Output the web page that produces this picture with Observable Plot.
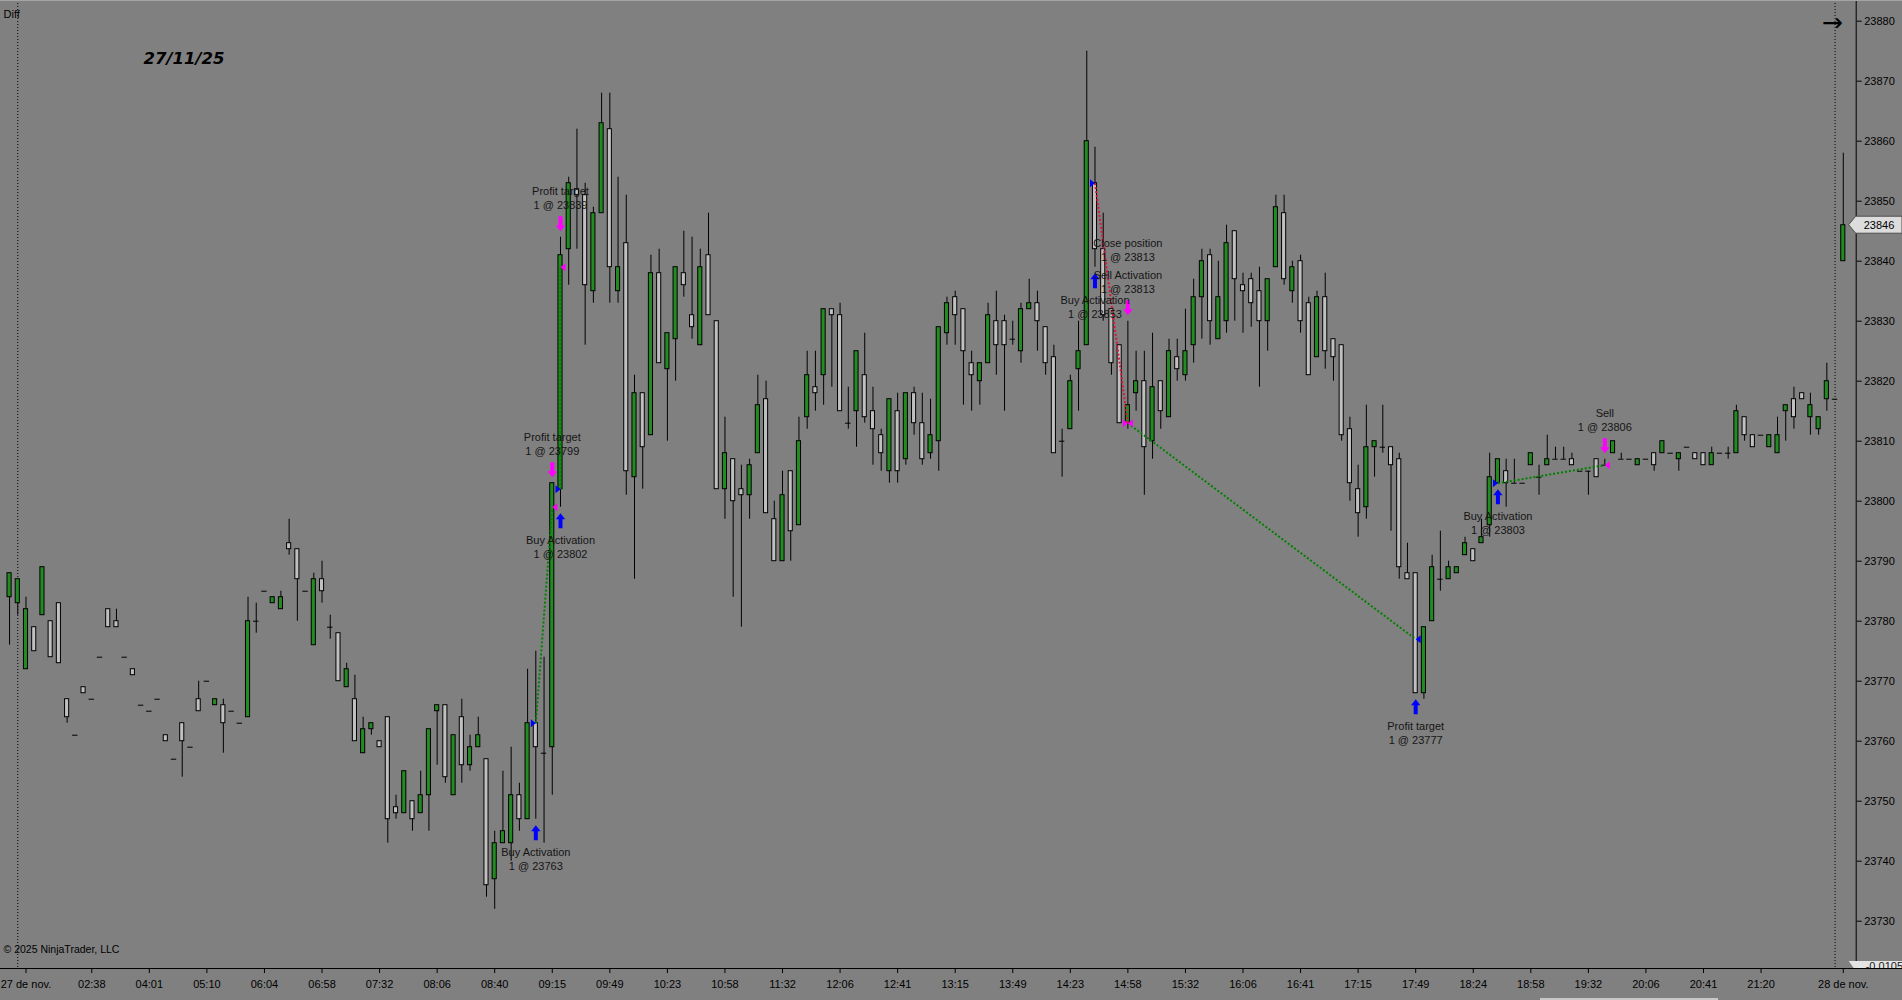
<!DOCTYPE html>
<html><head><meta charset="utf-8">
<script src="https://cdn.jsdelivr.net/npm/d3@7"></script>
<script src="https://cdn.jsdelivr.net/npm/@observablehq/plot@0.6"></script>
<style>
html,body{margin:0;padding:0;background:#808080;overflow:hidden;}
#wrap{position:relative;width:1902px;height:1000px;}
#wrap svg{display:block;}
#topline{position:absolute;left:0;top:0;width:1902px;height:1px;background:#a4a4a4;}
#scroll{position:absolute;left:1540px;top:998px;width:178px;height:2px;background:#c8c8c8;}
</style></head>
<body><div id="wrap"><div id="topline"></div><div id="scroll"></div></div>
<script>
// ---- candle data (27/11/25, one bar per index) ----
const open = [23784,23783,23772,23779,23781,23780,23783,23767,23761,23769,
23767,23774,23782,23780,23774,23772,23766,23765,23767,23761,
23757,23763,23759,23767,23770,23766,23766,23765,23763,23764,
23780,23785,23783,23782,23793,23792,23785,23776,23787,23779,
23778,23769,23767,23758,23762,23760,23764,23749,23748,23750,
23748,23751,23765,23766,23751,23764,23756,23759,23757,23737,
23743,23743,23751,23747,23763,23758,23759,23802,23842,23852,
23851,23835,23848,23862,23835,23843,23804,23818,23811,23838,
23822,23827,23838,23831,23826,23841,23830,23802,23807,23802,
23801,23808,23817,23797,23790,23805,23796,23814,23819,23821,
23832,23831,23813,23815,23821,23815,23811,23805,23815,23807,
23818,23813,23808,23810,23828,23834,23832,23823,23820,23823,
23830,23830,23827,23825,23832,23833,23829,23824,23810,23812,
23822,23826,23853,23842,23832,23826,23813,23818,23820,23810,
23820,23814,23824,23821,23826,23834,23841,23827,23830,23845,
23836,23837,23835,23830,23839,23848,23835,23840,23833,23824,
23834,23827,23826,23812,23802,23799,23809,23809,23809,23807,
23788,23788,23768,23780,23787,23787,23788,23791,23792,23793,
23796,23803,23805,23803,23803,23806,23804,23806,23807,23807,
23807,23805,23805,23807,23806,23808,23807,23807,23806,23807,
23808,23808,23808,23807,23809,23808,23808,23806,23808,23808,
23808,23814,23811,23811,23809,23808,23815,23817,23818,23814,
23812,23817,23817,23840];
const high = [23788,23787,23784,23779,23789,23780,23783,23767,23761,23769,
23767,23774,23782,23782,23774,23772,23766,23765,23767,23761,
23757,23763,23759,23770,23770,23767,23767,23765,23763,23784,
23783,23785,23784,23785,23797,23792,23785,23788,23790,23781,
23778,23773,23771,23764,23763,23760,23764,23751,23755,23750,
23755,23762,23766,23766,23761,23767,23761,23764,23757,23745,
23755,23759,23753,23772,23775,23774,23803,23844,23854,23862,
23853,23849,23868,23868,23854,23851,23821,23818,23841,23842,
23828,23839,23845,23844,23842,23848,23830,23814,23807,23806,
23807,23821,23820,23800,23805,23805,23814,23825,23825,23832,
23832,23833,23819,23825,23828,23819,23812,23817,23818,23818,
23819,23818,23817,23829,23834,23835,23832,23825,23823,23833,
23835,23831,23830,23833,23837,23835,23829,23826,23812,23821,
23830,23875,23859,23848,23832,23826,23830,23825,23825,23828,
23820,23827,23827,23832,23837,23842,23842,23840,23846,23845,
23838,23838,23839,23837,23851,23851,23840,23841,23834,23835,
23838,23827,23826,23814,23806,23816,23810,23816,23809,23808,
23793,23788,23779,23791,23795,23790,23789,23794,23792,23797,
23808,23807,23807,23807,23803,23808,23806,23811,23809,23809,
23808,23805,23805,23807,23807,23810,23808,23807,23807,23807,
23808,23810,23808,23808,23809,23808,23808,23809,23808,23809,
23816,23814,23811,23811,23811,23814,23816,23819,23818,23818,
23814,23823,23817,23858];
const low = [23776,23781,23772,23775,23781,23774,23773,23763,23761,23768,
23767,23774,23779,23779,23774,23771,23766,23765,23767,23760,
23757,23754,23759,23765,23770,23766,23758,23765,23763,23764,
23778,23785,23783,23782,23791,23780,23785,23776,23783,23777,
23770,23769,23760,23758,23761,23759,23743,23747,23748,23745,
23748,23745,23756,23753,23751,23753,23755,23759,23734,23732,
23743,23740,23745,23747,23747,23743,23751,23799,23836,23842,
23826,23833,23848,23833,23833,23801,23787,23802,23811,23823,
23810,23820,23834,23827,23826,23831,23802,23797,23784,23779,
23797,23808,23798,23790,23790,23790,23796,23812,23815,23816,
23819,23815,23812,23809,23813,23806,23805,23803,23803,23806,
23811,23806,23807,23805,23826,23826,23816,23815,23816,23823,
23821,23815,23826,23823,23832,23825,23821,23808,23804,23812,
23815,23826,23839,23830,23821,23813,23812,23815,23801,23807,
23812,23814,23820,23820,23823,23827,23826,23827,23828,23830,
23828,23829,23819,23825,23839,23836,23833,23828,23821,23824,
23822,23820,23810,23800,23794,23797,23804,23808,23795,23787,
23787,23768,23767,23780,23785,23787,23788,23791,23790,23793,
23794,23803,23799,23803,23803,23806,23801,23806,23807,23807,
23806,23805,23801,23804,23806,23808,23807,23807,23806,23807,
23805,23808,23808,23805,23809,23807,23806,23806,23808,23807,
23808,23810,23809,23811,23809,23808,23810,23812,23817,23811,
23811,23815,23817,23840];
const close = [23788,23787,23782,23775,23789,23774,23773,23764,23761,23768,
23767,23774,23779,23779,23774,23771,23766,23765,23767,23760,
23757,23760,23759,23765,23770,23767,23763,23765,23763,23780,
23780,23785,23784,23784,23792,23787,23785,23787,23785,23779,
23770,23772,23760,23762,23763,23759,23747,23748,23755,23747,
23751,23762,23766,23754,23761,23756,23759,23761,23736,23743,
23745,23751,23747,23763,23759,23758,23803,23841,23853,23851,
23836,23848,23863,23839,23839,23805,23818,23809,23838,23823,
23828,23839,23836,23829,23839,23831,23802,23808,23800,23801,
23806,23816,23798,23790,23801,23795,23810,23821,23818,23832,
23831,23815,23813,23825,23814,23812,23808,23817,23805,23818,
23813,23807,23811,23829,23833,23831,23825,23821,23823,23831,
23826,23826,23827,23832,23833,23830,23823,23808,23810,23820,
23825,23860,23842,23831,23823,23813,23816,23820,23809,23819,
23815,23825,23822,23825,23834,23840,23830,23834,23843,23837,
23835,23833,23830,23837,23849,23837,23839,23830,23821,23834,
23825,23824,23811,23803,23798,23809,23810,23809,23806,23789,
23787,23768,23779,23789,23787,23789,23789,23793,23790,23794,
23804,23807,23803,23803,23803,23808,23804,23807,23807,23807,
23806,23805,23805,23804,23806,23810,23807,23807,23807,23807,
23806,23810,23808,23808,23809,23807,23806,23808,23808,23808,
23815,23811,23809,23811,23811,23811,23816,23814,23817,23816,
23814,23820,23817,23846];

// ---- axes ----
const yTicks = [23730,23740,23750,23760,23770,23780,23790,23800,23810,23820,23830,23840,23850,23860,23870,23880];
const xTickIdx = [2,10,17,24,31,38,45,52,59,66,73,80,87,94,101,108,115,122,129,136,143,150,157,164,171,178,185,192,199,206,213,223];
const xTickLabels = ["27 de nov.","02:38","04:01","05:10","06:04","06:58","07:32","08:06","08:40","09:15","09:49","10:23","10:58","11:32","12:06","12:41","13:15","13:49","14:23","14:58","15:32","16:06","16:41","17:15","17:49","18:24","18:58","19:32","20:06","20:41","21:20","28 de nov."];
const sessionBreaks = [1, 222];
const indicatorValue = "-0,0105";

// ---- trades ----
const entryIdx   = [64, 67, 132, 136, 181];
const entryPrice = [23763, 23802, 23853, 23813, 23803];
const entrySide  = ["buy","buy","buy","sell","buy"];
const exitIdx    = [66, 67, 136, 171, 194];
const exitPrice  = [23799, 23839, 23813, 23777, 23806];
const exitSide   = ["sell","sell","sell","buy","sell"];
const tradeWin   = [true, true, false, true, true];

// ---- execution markers (arrow + two-line label) ----
const markerIdx   = [64, 66, 67, 67, 132, 136, 136, 171, 181, 194];
const markerSide  = ["buy","sell","buy","sell","buy","sell","sell","buy","buy","sell"];
const markerStack = [0,0,0,0,0,0,1,0,0,0];
const markerName  = ["Buy Activation","Profit target","Buy Activation","Profit target","Buy Activation","Sell Activation","Close position","Profit target","Buy Activation","Sell"];
const markerQty   = ["1 @ 23763","1 @ 23799","1 @ 23802","1 @ 23839","1 @ 23853","1 @ 23813","1 @ 23813","1 @ 23777","1 @ 23803","1 @ 23806"];

// ---- build tables ----
const candles = open.map((o, i) => ({i, o, h: high[i], l: low[i], c: close[i]}));
const upBodies = candles.filter(d => d.c > d.o);
const dnBodies = candles.filter(d => d.c < d.o);
const dojis = candles.filter(d => d.c === d.o);
const trades = entryIdx.map((e, k) => ({ei: e, ep: entryPrice[k], xi: exitIdx[k], xp: exitPrice[k], win: tradeWin[k]}));
const entries = entryIdx.map((e, k) => ({i: e, p: entryPrice[k], side: entrySide[k]}));
const exits = exitIdx.map((e, k) => ({i: e, p: exitPrice[k], side: exitSide[k]}));
const markers = markerIdx.map((m, k) => ({i: m, side: markerSide[k], stack: markerStack[k], name: markerName[k], qty: markerQty[k]}));
const arrows = markers.filter(m => m.stack === 0);
const labelRows = markers.flatMap(m => [
  {i: m.i, side: m.side, stack: m.stack, line: 0, text: m.name},
  {i: m.i, side: m.side, stack: m.stack, line: 1, text: m.qty}
]);

const GREEN = "#228b22", GRAY = "#c0c0c0", BLUE = "#0000ff", MAGENTA = "#ff00ff";
const FONT = "'Liberation Sans', Arial, sans-serif";

const upArrow = {draw(c){c.moveTo(0,0);c.lineTo(4.7,6);c.lineTo(2,6);c.lineTo(2,15);c.lineTo(-2,15);c.lineTo(-2,6);c.lineTo(-4.7,6);c.closePath();}};
const downArrow = {draw(c){c.moveTo(0,0);c.lineTo(4.7,-6);c.lineTo(2,-6);c.lineTo(2,-15);c.lineTo(-2,-15);c.lineTo(-2,-6);c.lineTo(-4.7,-6);c.closePath();}};
const triRight = {draw(c){c.moveTo(0,0);c.lineTo(-5,-4);c.lineTo(-5,4);c.closePath();}};
const triLeft = {draw(c){c.moveTo(0,0);c.lineTo(5,-4);c.lineTo(5,4);c.closePath();}};

const xDomain = [-1.1006, 224.57];
const yDomain = [23722.12, 23883.45];

const chart = Plot.plot({
  width: 1902, height: 1000,
  marginLeft: 0, marginRight: 46.3, marginTop: 0, marginBottom: 32,
  x: {type: "linear", domain: xDomain, axis: null},
  y: {type: "linear", domain: yDomain, axis: null},
  style: {background: "transparent", fontFamily: FONT, fontSize: "11px", color: "black", overflow: "visible"},
  marks: [
    Plot.ruleX(sessionBreaks, {x: d => d, stroke: "black", strokeWidth: 1, strokeDasharray: "1,2"}),
    Plot.ruleY([yDomain[0]], {stroke: "black", strokeWidth: 1}),
    Plot.ruleX([xDomain[1]], {stroke: "black", strokeWidth: 1}),
    Plot.axisY({anchor: "right", ticks: yTicks, tickSize: 5, tickPadding: 3, tickFormat: d => String(d), fontSize: 11, color: "black"}),
    Plot.axisX({anchor: "bottom", ticks: xTickIdx, tickSize: 5, tickPadding: 7, tickFormat: v => xTickLabels[xTickIdx.indexOf(v)], fontSize: 11, color: "black"}),
    // wicks
    Plot.ruleX(candles, {x: "i", y1: "l", y2: "h", stroke: "black", strokeWidth: 1}),
    // bodies
    Plot.rect(upBodies, {x1: d => d.i - 0.25, x2: d => d.i + 0.25, y1: "o", y2: "c", fill: GREEN, stroke: "black", strokeWidth: 1}),
    Plot.rect(dnBodies, {x1: d => d.i - 0.25, x2: d => d.i + 0.25, y1: "o", y2: "c", fill: GRAY, stroke: "black", strokeWidth: 1}),
    Plot.ruleY(dojis, {y: "o", x1: d => d.i - 0.33, x2: d => d.i + 0.33, stroke: "black", strokeWidth: 1}),
    // trade connection lines
    Plot.link(trades, {x1: "ei", y1: "ep", x2: "xi", y2: "xp", stroke: d => d.win ? "#008000" : "#dc143c", strokeWidth: 2, strokeDasharray: "2,2"}),
    // entry / exit triangles
    Plot.dot(entries.filter(d => d.side === "buy"), {x: "i", y: "p", symbol: triRight, fill: BLUE, stroke: "none"}),
    Plot.dot(entries.filter(d => d.side === "sell"), {x: "i", y: "p", symbol: triRight, fill: MAGENTA, stroke: "none"}),
    Plot.dot(exits.filter(d => d.side === "buy"), {x: "i", y: "p", symbol: triLeft, fill: BLUE, stroke: "none"}),
    Plot.dot(exits.filter(d => d.side === "sell"), {x: "i", y: "p", symbol: triLeft, fill: MAGENTA, stroke: "none"}),
    // execution arrows
    Plot.dot(arrows.filter(d => d.side === "buy"), {x: "i", y: d => low[d.i], dy: 6, symbol: upArrow, fill: BLUE, stroke: "none"}),
    Plot.dot(arrows.filter(d => d.side === "sell"), {x: "i", y: d => high[d.i], dy: -6, symbol: downArrow, fill: MAGENTA, stroke: "none"}),
    // execution labels
    Plot.text(labelRows.filter(d => d.side === "buy" && d.line === 0), {x: "i", y: d => low[d.i], text: "text", dy: 33, fill: "#151515", fontSize: 11, textAnchor: "middle"}),
    Plot.text(labelRows.filter(d => d.side === "buy" && d.line === 1), {x: "i", y: d => low[d.i], text: "text", dy: 47, fill: "#151515", fontSize: 11, textAnchor: "middle"}),
    Plot.text(labelRows.filter(d => d.side === "sell" && d.stack === 0 && d.line === 0), {x: "i", y: d => high[d.i], text: "text", dy: -46, fill: "#151515", fontSize: 11, textAnchor: "middle"}),
    Plot.text(labelRows.filter(d => d.side === "sell" && d.stack === 0 && d.line === 1), {x: "i", y: d => high[d.i], text: "text", dy: -32, fill: "#151515", fontSize: 11, textAnchor: "middle"}),
    Plot.text(labelRows.filter(d => d.side === "sell" && d.stack === 1 && d.line === 0), {x: "i", y: d => high[d.i], text: "text", dy: -78, fill: "#151515", fontSize: 11, textAnchor: "middle"}),
    Plot.text(labelRows.filter(d => d.side === "sell" && d.stack === 1 && d.line === 1), {x: "i", y: d => high[d.i], text: "text", dy: -64, fill: "#151515", fontSize: 11, textAnchor: "middle"}),
    // chart texts
    Plot.text(["Diff"], {frameAnchor: "top-left", dx: 3, dy: 10, textAnchor: "start", fontSize: 11, fill: "black"}),
    Plot.text(["27/11/25"], {frameAnchor: "top-left", dx: 143, dy: 52, textAnchor: "start", fontSize: 16.5, fontWeight: "bold", fontStyle: "italic", fontFamily: "'DejaVu Sans', sans-serif", fill: "black"}),
    Plot.text(["© 2025 NinjaTrader, LLC"], {frameAnchor: "bottom-left", dx: 3, dy: -16, textAnchor: "start", fontSize: 10.5, fill: "black"}),
    Plot.text(["→"], {frameAnchor: "top-right", dx: -24, dy: 13, textAnchor: "middle", fontSize: 25, fontFamily: "'DejaVu Sans', sans-serif", fill: "black"})
  ]
});

document.getElementById("wrap").appendChild(chart);

// last-price flag and indicator value flag in the right margin
const svg = d3.select(chart);
const ys = chart.scale("y"), xs = chart.scale("x");
const xr = xs.range[1];
const last = close[close.length - 1];
const yl = ys.apply(last);
svg.append("path")
  .attr("d", `M${xr - 7},${yl} L${xr},${yl - 8.5} L1902,${yl - 8.5} L1902,${yl + 8.5} L${xr},${yl + 8.5} Z`)
  .attr("fill", "#dcdcdc").attr("stroke", "#505050").attr("stroke-width", 1);
svg.append("text").attr("x", xr + 8).attr("y", yl).attr("dy", "0.35em").attr("text-anchor", "start")
  .attr("font-family", FONT).attr("font-size", 11).attr("fill", "black").text(String(last));
const yb = ys.range[0];
svg.append("path")
  .attr("d", `M${xr - 7},${yb - 7} L1902,${yb - 7} L1902,${yb} L${xr - 2},${yb} Z`)
  .attr("fill", "#e4e4e4").attr("stroke", "none");
svg.append("text").attr("x", xr + 10).attr("y", yb + 2).attr("text-anchor", "start")
  .attr("font-family", FONT).attr("font-size", 11).attr("fill", "#202020").text(indicatorValue);
svg.append("rect").attr("x", xr - 8).attr("y", yb + 0.5).attr("width", 1902 - xr + 8).attr("height", 6).attr("fill", "#808080");
svg.append("line").attr("x1", xr - 8).attr("x2", 1902).attr("y1", yb + 0.5).attr("y2", yb + 0.5).attr("stroke", "black");
</script>
</body></html>
